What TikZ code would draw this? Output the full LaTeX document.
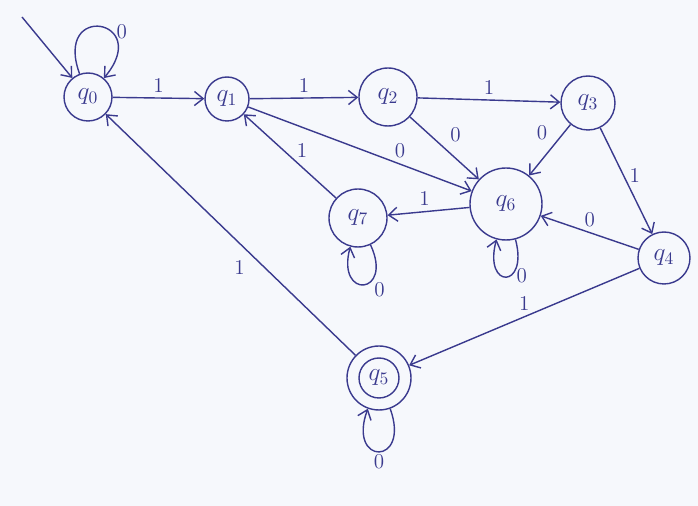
\documentclass[tikz,border=0pt]{standalone}
\usetikzlibrary{arrows.meta}
\definecolor{ink}{HTML}{3A3A8E}
\definecolor{paper}{HTML}{F6F8FC}
\begin{document}
\begin{tikzpicture}[x=0.02cm, y=-0.02cm, line width=0.8pt, draw=ink,
  state/.style={circle, draw=ink, text=ink, font=\Large, inner sep=0pt},
  tr/.style={draw=ink, -{Straight Barb[length=5pt,width=8pt]}},
  lbl/.style={text=ink, font=\large, inner sep=3pt}]
\fill[paper] (0,0) rectangle (698,506);
\useasboundingbox (0,0) rectangle (698,506);

% states
\node[state, minimum size=0.96cm] (q0) at (88,97)  {$q_0$};
\node[state, minimum size=0.88cm] (q1) at (227,99) {$q_1$};
\node[state, minimum size=1.16cm] (q2) at (388,97) {$q_2$};
\node[state, minimum size=1.08cm] (q3) at (588,103) {$q_3$};
\node[state, minimum size=1.44cm] (q6) at (506,204) {$q_6$};
\node[state, minimum size=1.16cm] (q7) at (358,218) {$q_7$};
\node[state, minimum size=1.04cm] (q4) at (664,258) {$q_4$};
\node[state, minimum size=1.28cm] (q5) at (379,378) {$q_5$};
\draw[ink] (q5.center) circle[radius=0.4cm];

% initial arrow
\coordinate (start) at (22,17);
\draw[tr] (start) -- (q0);

% transitions
\draw[tr] (q0) -- node[lbl, above] {1} (q1);
\draw[tr] (q1) -- node[lbl, above] {1} (q2);
\draw[tr] (q2) -- node[lbl, above] {1} (q3);
\draw[tr] (q2) -- node[lbl, above right, pos=0.5] {0} (q6);
\draw[tr] (q1) -- node[lbl, above, pos=0.68] {0} (q6);
\draw[tr] (q3) -- node[lbl, above left, pos=0.42] {0} (q6);
\draw[tr] (q3) -- node[lbl, right, pos=0.45] {1} (q4);
\draw[tr] (q6) -- node[lbl, above, pos=0.55] {1} (q7);
\draw[tr] (q7) -- node[lbl, above right, inner sep=1pt, pos=0.45] {1} (q1);
\draw[tr] (q4) -- node[lbl, above, pos=0.5] {0} (q6);
\draw[tr] (q4) -- node[lbl, above, pos=0.5] {1} (q5);
\draw[tr] (q5) -- node[lbl, below left, pos=0.42] {1} (q0);

% self-loops
\draw[tr] (q0) to[out=110, in=50, looseness=8] node[lbl, right, pos=0.62] {0} (q0);
\draw[tr] (q7) to[out=-65, in=-105, looseness=7] node[lbl, below right, inner sep=1pt, pos=0.35] {0} (q7);
\draw[tr] (q6) to[out=-75, in=-105, looseness=7] node[lbl, right, pos=0.4] {0} (q6);
\draw[tr] (q5) to[out=-70, in=-110, looseness=7] node[lbl, below, inner sep=1pt] {0} (q5);
\end{tikzpicture}
\end{document}
